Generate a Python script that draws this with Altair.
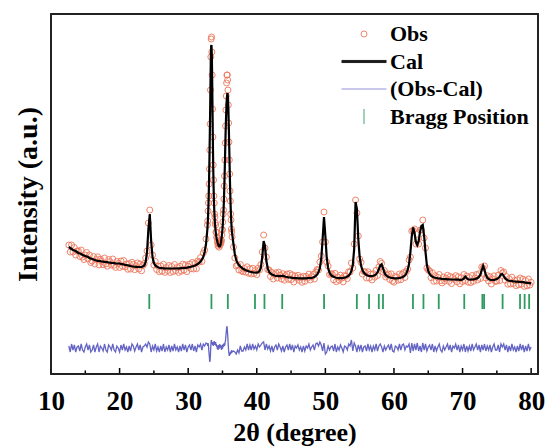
import altair as alt
import pandas as pd

# ---------------- data ----------------
GRID_A = (12.6, 0.2, 101)     # 12.6 .. 32.6
GRID_FINE = (32.8, 0.05, 73)  # 32.80 .. 36.40
GRID_B = (36.6, 0.2, 218)     # 36.6 .. 80.0

CAL_A = [
    127, 126,
    125, 124, 123.5, 123, 122,
    121, 120.5, 120, 119, 118.5,
    118, 117.5, 117, 116, 115.5,
    115, 114.5, 114, 113.5, 113.2,
    113, 112.8, 112.5, 112.3, 112,
    112, 111.8, 111.5, 111.3, 111,
    111, 110.8, 110.6, 110.5, 110.5,
    110.5, 110, 109.8, 109.5, 109.2,
    109, 108.7, 108.4, 108, 107.7,
    107.5, 107.3, 107.2, 107, 107,
    107, 107.2, 107.5, 108.5, 112,
    122, 145, 160, 133, 117,
    111, 108.5, 107.5, 106.8, 106.3,
    106, 105.8, 105.7, 105.6, 105.5,
    105.5, 105.5, 105.5, 105.5, 105.5,
    105.5, 105.5, 105.5, 105.6, 105.7,
    105.8, 105.9, 106, 106.2, 106.4,
    106.6, 106.9, 107.2, 107.6, 108,
    108.6, 109.3, 110, 111, 112.5,
    114.5, 117, 122, 130,
]
CAL_FINE = [
    145, 151, 158, 168,
    180, 196, 215, 238, 262, 290, 315, 328,
    329, 318, 293, 262, 232, 207, 188, 174,
    164, 157, 151, 147,
    143, 140, 137.5, 135.5, 134, 132.5, 131, 130,
    129, 128.3, 127.8, 127.5, 127.5, 128, 129, 130.5,
    132.5, 135, 138, 141.5,
    145, 150, 156, 163, 172, 183, 196, 210,
    225, 240, 252, 262, 271, 277, 280, 280,
    276, 267, 254, 238,
    222, 205, 190, 177, 166, 157, 150, 144,
    141,
]
CAL_B = [
    130, 120,
    114, 111, 109, 107.5, 106.3,
    105.2, 104.5, 103.8, 103.2, 102.7,
    102.3, 102, 101.7, 101.5, 101.5,
    101.3, 101.8, 103, 106.5, 117,
    133, 128, 113, 105.5, 102,
    100.5, 99.5, 99, 98.5, 98.2,
    98, 97.8, 97.8, 98, 98.3,
    97.8, 97.3, 97, 96.7, 96.5,
    96.3, 96.1, 96, 95.9, 95.8,
    95.7, 95.7, 95.7, 95.7, 95.7,
    95.7, 95.7, 95.8, 95.9, 96,
    96.2, 96.5, 97, 98, 99.5,
    102, 106, 115, 135, 157,
    138, 116, 106, 101.5, 99.3,
    98, 97.2, 96.7, 96.3, 96,
    95.8, 95.8, 95.9, 96.1, 96.4,
    96.8, 97.4, 98.3, 100, 103,
    109, 125, 172, 165, 135,
    117, 108.5, 104, 101.5, 100,
    99, 98.3, 98, 97.9, 98,
    98.3, 98.8, 99.7, 101.5, 105,
    108.5, 109.7, 106, 101.5, 99,
    97.8, 97, 96.5, 96.2, 96,
    95.8, 95.7, 95.7, 95.8, 96,
    96.3, 96.7, 97.4, 98.5, 100.5,
    104, 110, 122, 138, 146.5,
    141, 132, 129, 133, 142,
    148, 149, 138, 122, 109,
    103, 100, 98.3, 97.3, 96.7,
    96.3, 96, 95.7, 95.5, 95.3,
    95.1, 95, 94.9, 94.8, 94.7,
    94.6, 94.5, 94.5, 94.5, 94.5,
    94.4, 94.3, 94.3, 94.2, 94.2,
    94.5, 95.5, 97.5, 96, 94.8,
    94.5, 94.4, 94.5, 94.7, 95,
    95.4, 96, 97.2, 99.5, 104,
    108, 104, 99, 96.3, 95,
    94.3, 94, 94, 94.2, 94.5,
    95, 95.8, 97.3, 99.5, 100,
    98, 95.8, 94.5, 93.8, 93.3,
    93, 92.8, 92.6, 92.5, 92.4,
    92.3, 92.2, 92, 91.9, 91.8,
    91.6, 91.4, 91.2, 91, 90.9,
    90.7,
]

DIFF_A = [
    2, -4,
    4, -2, 3, -4, 1,
    2, -3, 4, -2, -4,
    1, 4, -2, 3, -4,
    -2, 3, -4, 1, 4,
    -4, 2, 0, -3, 4,
    -2, -4, 3, 1, -2,
    4, -2, -4, 2, 0,
    -4, 3, -2, 4, -2,
    1, -4, 2, -3, 4,
    2, -3, 1, 4, -2,
    3, -4, 1, 2, 4,
    1, 6, 4, -4, 2,
    -2, 4, -3, 1, -4,
    2, -3, 4, -4, 1,
    -2, 3, -4, 2, -3,
    4, -2, 1, -4, 2,
    -3, 4, -2, 3, -4,
    1, 3, -2, 4, -3,
    2, -4, 3, 1, 4,
    -2, 4, 2, 5,
]
DIFF_FINE = [
    4, 2, 5, 3,
    -2, -6, -10, -14, -12, -6, 2, 7,
    8, 4, 6, 3, 5, 2, 6, 4,
    7, 3, 6, 4,
    6, 2, 4, 1, 3, -1, 2, -2,
    1, 3, -1, 2, 4, 1, 3, 0,
    2, -2, 1, 3,
    -1, 2, 4, 1, 3, 5, 2, 4,
    6, 8, 12, 16, 20, 22, 19, 14,
    8, 2, -3, -6,
    -8, -5, -7, -4, -6, -3, -5, -2,
    -4,
]
DIFF_B = [
    -3, -4,
    -6, -2, -5, 2, -3,
    -3, 1, -2, 4, -2,
    3, -2, 4, -1, 2,
    -2, 4, 1, 3, 5,
    6, -2, 4, -1, 2,
    -3, 2, -4, 1, 3,
    -2, 4, 1, -3, 2,
    -4, 1, 3, -2, 4,
    -2, 3, -4, 2, 0,
    3, -2, 1, -4, 2,
    -3, 2, 0, 4, -2,
    1, 3, -2, 4, 5,
    2, 6, 3, -3, 5,
    -6, -4, 2, -2, 1,
    2, -3, 4, -4, 1,
    -2, 3, 0, -4, 2,
    1, -2, 4, 2, 8,
    -3, 5, 2, -4, 3,
    -2, 3, -4, 1, 2,
    -3, 4, -2, 2, -4,
    2, -2, 4, -3, 2,
    4, 1, -4, 2, -2,
    1, 3, -2, 4, -3,
    -4, 2, 1, -2, 4,
    -2, 3, 4, -2, 2,
    1, 4, -5, 5, -3,
    4, -2, 5, -3, 2,
    -4, 5, -2, 4, -3,
    1, 3, -2, 4, -4,
    2, -3, 1, 4, -2,
    -4, 2, -2, 1, 4,
    -2, 3, -4, 2, 0,
    4, -2, 3, -4, 2,
    -2, 4, -4, 2, -3,
    2, -3, 4, -2, 1,
    4, -2, 3, -4, 3,
    -2, 4, -3, 2, -2,
    3, -4, 1, 4, -2,
    -2, 3, -4, 4, 1,
    4, -2, 3, -4, 2,
    -3, 4, -2, 1, -4,
    2, -3, 4, -2, 3,
    -4, 2, -3, 4, -2,
    1,
]

BRAGG = [24.33, 33.39, 35.78, 39.74, 41.12, 43.71, 49.81, 54.59, 56.37,
         57.79, 58.40, 62.77, 64.30, 66.53, 70.25, 72.89, 73.14, 75.84,
         78.38, 79.05, 79.71]

SERIES = ["Obs", "Cal", "(Obs-Cal)", "Bragg Position"]
X_TICKS = [10, 20, 30, 40, 50, 60, 70, 80]
X_MINOR = [15, 25, 35, 45, 55, 65, 75]

# ---------------- layout / style ----------------
X_DOMAIN = [10, 81]
Y_DOMAIN = [0, 360]
DIFF_BASE = 26
BRAGG_TOP, BRAGG_BOTTOM = 80, 65
MAJOR_LEN, MINOR_LEN = 6, 3.5
W, H = 487, 360
FONT = "Liberation Serif"
FRAME = "#222222"
COLORS = ["#EE785C", "#000000", "#8C86D8", "#2E9B5F"]
LINE_PATH = "M-7.5,0L7.5,0"
THICK_PATH = "M-7.5,-0.35L7.5,-0.35M-7.5,0L7.5,0M-7.5,0.35L7.5,0.35"
TICK_PATH = "M0,-2.5L0,2.5"
SHAPES = ["circle", THICK_PATH, LINE_PATH, TICK_PATH]


def grid(spec):
    start, step, n = spec
    return [round(start + step * i, 2) for i in range(n)]


two_theta = grid(GRID_A) + grid(GRID_FINE) + grid(GRID_B)
CAL = CAL_A + CAL_FINE + CAL_B
DIFF = DIFF_A + DIFF_FINE + DIFF_B
assert len(CAL) == len(two_theta) == len(DIFF)

df = pd.DataFrame({
    "two_theta": two_theta,
    "cal": CAL,
    "obs": [c + d for c, d in zip(CAL, DIFF)],
    "diff": [d + DIFF_BASE for d in DIFF],
    "series": "Obs",
})
bragg_df = pd.DataFrame({"pos": BRAGG, "top": BRAGG_TOP, "bottom": BRAGG_BOTTOM})
frame_h_df = pd.DataFrame({"x0": [X_DOMAIN[0]] * 2, "x1": [X_DOMAIN[1]] * 2,
                           "y": Y_DOMAIN})
frame_v_df = pd.DataFrame({"x": X_DOMAIN, "y0": [Y_DOMAIN[0]] * 2,
                           "y1": [Y_DOMAIN[1]] * 2})
ticks_df = pd.DataFrame({
    "t": X_TICKS + X_MINOR,
    "y0": Y_DOMAIN[0],
    "y1": [MAJOR_LEN] * len(X_TICKS) + [MINOR_LEN] * len(X_MINOR),
})

x_scale = alt.Scale(domain=X_DOMAIN, nice=False, zero=False)
y_scale = alt.Scale(domain=Y_DOMAIN, nice=False, zero=False)

x_axis = alt.Axis(
    orient="bottom", values=X_TICKS, format="d", ticks=False, tickSize=0,
    domain=False, grid=False, labelFlush=False, labelFont=FONT,
    labelFontWeight="bold", labelFontSize=27, labelColor="black",
    labelPadding=14, title="2θ (degree)", titleFont=FONT,
    titleFontWeight="bold", titleFontSize=26, titleColor="black",
    titlePadding=5,
)
y_axis = alt.Axis(
    orient="left", labels=False, ticks=False, domain=False, grid=False,
    title="Intensity (a.u.)", titleFont=FONT, titleFontWeight="bold",
    titleFontSize=28, titleColor="black", titlePadding=9,
)


def X(field):
    return alt.X(field, scale=x_scale, axis=x_axis)


def Y(field):
    return alt.Y(field, scale=y_scale, axis=y_axis)


obs_layer = alt.Chart(df).mark_point(
    filled=False, size=36, strokeWidth=1, opacity=0.9
).encode(
    x=X("two_theta:Q"),
    y=Y("obs:Q"),
    color=alt.Color("series:N", scale=alt.Scale(domain=SERIES, range=COLORS),
                    legend=alt.Legend(title=None)),
    shape=alt.Shape("series:N", scale=alt.Scale(domain=SERIES, range=SHAPES),
                    legend=alt.Legend(title=None)),
)

cal_layer = alt.Chart(df).mark_line(color="black", strokeWidth=2.2).encode(
    x=X("two_theta:Q"), y=Y("cal:Q"),
)

diff_layer = alt.Chart(df).mark_line(color="#6464C4", strokeWidth=1.3).encode(
    x=X("two_theta:Q"), y=Y("diff:Q"),
)

bragg_layer = alt.Chart(bragg_df).mark_rule(color="#2E9B5F", strokeWidth=1.8).encode(
    x=X("pos:Q"), y=Y("top:Q"), y2="bottom:Q",
)

tick_layer = alt.Chart(ticks_df).mark_rule(color="black", strokeWidth=1.5).encode(
    x=X("t:Q"), y=Y("y0:Q"), y2="y1:Q",
)

frame_h = alt.Chart(frame_h_df).mark_rule(color=FRAME, strokeWidth=1.8).encode(
    x=X("x0:Q"), x2="x1:Q", y=Y("y:Q"),
)
frame_v = alt.Chart(frame_v_df).mark_rule(color=FRAME, strokeWidth=1.8).encode(
    x=X("x:Q"), y=Y("y0:Q"), y2="y1:Q",
)

chart = alt.layer(
    obs_layer, cal_layer, diff_layer, bragg_layer, tick_layer, frame_h, frame_v
).properties(
    width=W, height=H,
    autosize=alt.AutoSizeParams(type="none"),
    padding={"left": 51, "top": 14, "right": 9, "bottom": 73},
    background="white",
).configure_view(
    stroke=FRAME, strokeWidth=1.8
).configure_legend(
    orient="none", legendX=302, legendY=9,
    labelFont=FONT, labelFontWeight="bold", labelFontSize=22,
    labelColor="black", labelOffset=15, rowPadding=5.5,
    symbolStrokeWidth=1, symbolSize=36,
)

chart.save("out.html", embed_options={"renderer": "svg", "actions": False})
